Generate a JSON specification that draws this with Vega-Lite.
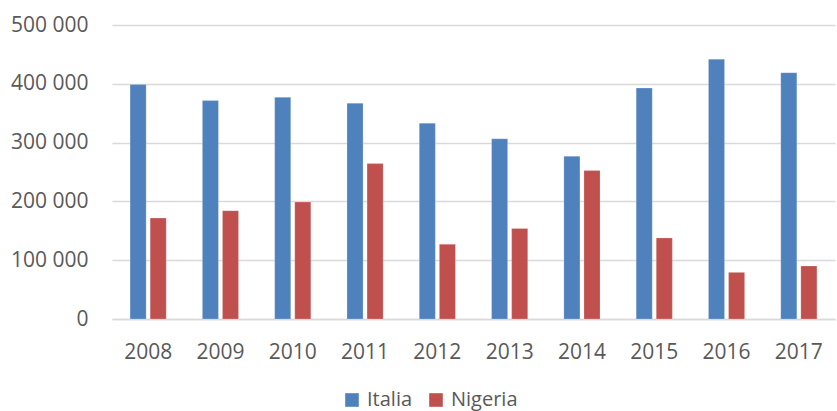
{
  "$schema": "https://vega.github.io/schema/vega-lite/v6.json",
  "width": 723,
  "height": 294,
  "autosize": {"type": "none"},
  "padding": {"left": 112, "top": 25, "right": 2, "bottom": 92},
  "background": "white",
  "data": {
    "values": [
      {"anno": "2008", "paese": "Italia", "valore": 398600},
      {"anno": "2008", "paese": "Nigeria", "valore": 171600},
      {"anno": "2009", "paese": "Italia", "valore": 371400},
      {"anno": "2009", "paese": "Nigeria", "valore": 184200},
      {"anno": "2010", "paese": "Italia", "valore": 377000},
      {"anno": "2010", "paese": "Nigeria", "valore": 198800},
      {"anno": "2011", "paese": "Italia", "valore": 367000},
      {"anno": "2011", "paese": "Nigeria", "valore": 264300},
      {"anno": "2012", "paese": "Italia", "valore": 333100},
      {"anno": "2012", "paese": "Nigeria", "valore": 127100},
      {"anno": "2013", "paese": "Italia", "valore": 306400},
      {"anno": "2013", "paese": "Nigeria", "valore": 153900},
      {"anno": "2014", "paese": "Italia", "valore": 276900},
      {"anno": "2014", "paese": "Nigeria", "valore": 252400},
      {"anno": "2015", "paese": "Italia", "valore": 392700},
      {"anno": "2015", "paese": "Nigeria", "valore": 137900},
      {"anno": "2016", "paese": "Italia", "valore": 441900},
      {"anno": "2016", "paese": "Nigeria", "valore": 79300},
      {"anno": "2017", "paese": "Italia", "valore": 418800},
      {"anno": "2017", "paese": "Nigeria", "valore": 90200}
    ]
  },
  "mark": {"type": "bar", "stroke": "#ffffff", "strokeOpacity": 0.35, "strokeWidth": 0.6},
  "encoding": {
    "x": {
      "field": "anno",
      "type": "nominal",
      "title": null,
      "scale": {"paddingInner": 0.5, "paddingOuter": 0.25},
      "axis": {
        "labelAngle": 0,
        "labelFont": "Liberation Sans Narrow, Open Sans",
        "labelFontSize": 21,
        "labelColor": "#595959",
        "labelPadding": 22,
        "ticks": false,
        "domain": true,
        "domainColor": "#d9d9d9",
        "domainWidth": 1.5,
        "grid": false
      }
    },
    "xOffset": {
      "field": "paese",
      "scale": {"paddingInner": 0.2, "paddingOuter": 0}
    },
    "y": {
      "field": "valore",
      "type": "quantitative",
      "title": null,
      "scale": {"domain": [0, 500000], "nice": false},
      "axis": {
        "values": [0, 100000, 200000, 300000, 400000, 500000],
        "labelExpr": "replace(format(datum.value, ','), ',', ' ')",
        "labelFont": "Open Sans",
        "labelFontSize": 21,
        "labelColor": "#595959",
        "labelPadding": 24,
        "ticks": false,
        "domain": false,
        "grid": true,
        "gridColor": "#d9d9d9",
        "gridWidth": 1.5
      }
    },
    "color": {
      "field": "paese",
      "type": "nominal",
      "title": null,
      "scale": {"domain": ["Italia", "Nigeria"], "range": ["#4F81BD", "#C0504D"]},
      "legend": {
        "orient": "none",
        "direction": "horizontal",
        "legendX": 230,
        "legendY": 365,
        "symbolType": "square",
        "symbolSize": 185,
        "symbolStrokeWidth": 0,
        "labelFont": "Open Sans",
        "labelFontSize": 20,
        "labelColor": "#595959",
        "labelOffset": 5,
        "columnPadding": 13
      }
    }
  },
  "config": {
    "view": {"stroke": null}
  }
}
